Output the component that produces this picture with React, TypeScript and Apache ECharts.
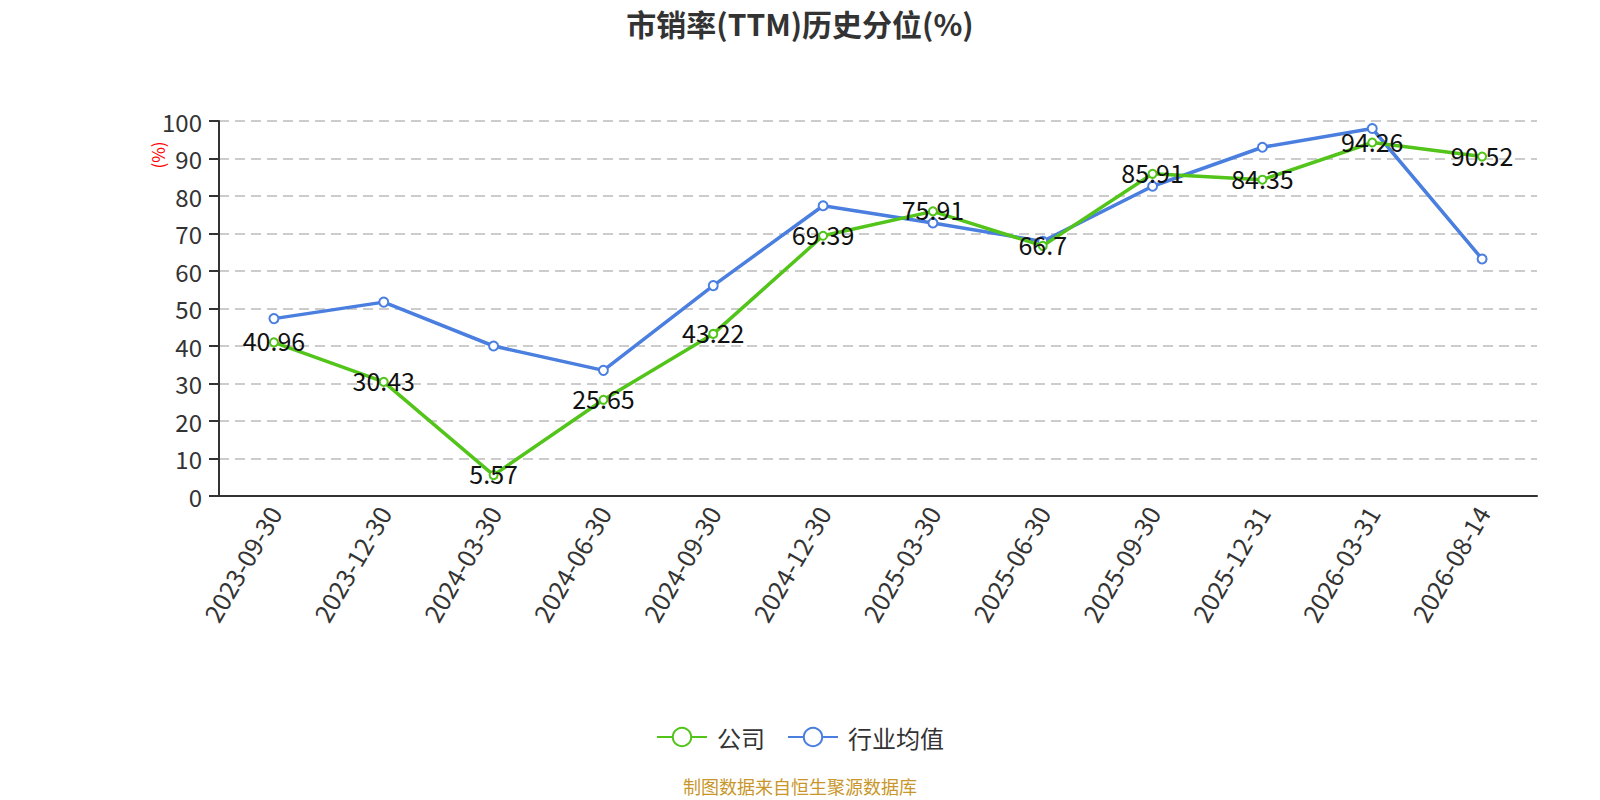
import React, { useEffect, useRef } from "react";
import * as echarts from "echarts";

const categories = ["2023-09-30", "2023-12-30", "2024-03-30", "2024-06-30", "2024-09-30", "2024-12-30", "2025-03-30", "2025-06-30", "2025-09-30", "2025-12-31", "2026-03-31", "2026-08-14"];
const companyValues = [40.96, 30.43, 5.57, 25.65, 43.22, 69.39, 75.91, 66.7, 85.91, 84.35, 94.26, 90.52];
const industryValues = [47.3, 51.7, 40.0, 33.5, 56.1, 77.4, 72.8, 67.9, 82.6, 93.0, 98.0, 63.2];

const FONT = "'Noto Sans CJK SC', 'Noto Sans', sans-serif";

export default function App() {
  const ref = useRef<HTMLDivElement>(null);
  useEffect(() => {
    const chart = echarts.init(ref.current!, null, { renderer: "svg" });
    chart.setOption({
      animation: false,
      textStyle: { fontFamily: FONT },
      title: {
        text: "市销率(TTM)历史分位(%)",
        left: "center",
        top: 8,
        padding: 0,
        textStyle: { fontSize: 30, fontWeight: "bold", color: "#333", fontFamily: FONT },
      },
      grid: { left: 219, right: 63, top: 121, bottom: 304 },
      legend: {
        top: 725,
        left: "center",
        padding: 0,
        itemWidth: 50,
        itemHeight: 23,
        itemGap: 22,
        textStyle: { fontSize: 24, color: "#333", fontFamily: FONT, padding: [0, 0, 0, 5] },
        data: ["公司", "行业均值"],
      },
      graphic: [
        {
          type: "text",
          left: "center",
          top: 777,
          style: { text: "制图数据来自恒生聚源数据库", fill: "#c9962b", fontSize: 18, fontFamily: FONT },
        },
        {
          type: "text",
          x: 157,
          y: 155,
          rotation: Math.PI / 2,
          style: { text: "(%)", fill: "red", fontSize: 17, fontFamily: FONT, align: "center", verticalAlign: "middle" },
        },
      ],
      xAxis: {
        type: "category",
        data: categories,
        boundaryGap: true,
        axisLine: { lineStyle: { color: "#333", width: 2 } },
        axisTick: { lineStyle: { color: "#333", width: 2 }, length: 10 },
        axisLabel: { rotate: 60, fontSize: 25, color: "#333", margin: 12, fontFamily: FONT },
      },
      yAxis: {
        type: "value",
        min: 0,
        max: 100,
        interval: 10,
        axisLine: { show: true, lineStyle: { color: "#333", width: 2 } },
        axisTick: { show: true, lineStyle: { color: "#333", width: 2 }, length: 10 },
        axisLabel: { fontSize: 24, color: "#333", margin: 17, fontFamily: FONT },
        splitLine: { lineStyle: { type: [10, 6], color: "#ccc", width: 2 } },
      },
      series: [
        {
          name: "公司",
          type: "line",
          data: companyValues,
          color: "#52c41a",
          symbol: "emptyCircle",
          symbolSize: 8,
          lineStyle: { width: 3.5 },
          label: { show: true, position: "inside", fontSize: 25, color: "#111", fontFamily: FONT, offset: [0, -2] },
          z: 3,
        },
        {
          name: "行业均值",
          type: "line",
          data: industryValues,
          color: "#4a7fe0",
          symbol: "emptyCircle",
          symbolSize: 9,
          lineStyle: { width: 3.5 },
          z: 2,
        },
      ],
    });
    return () => chart.dispose();
  }, []);
  return <div ref={ref} style={{ position: "absolute", left: 0, top: 0, width: 1600, height: 800 }} />;
}
